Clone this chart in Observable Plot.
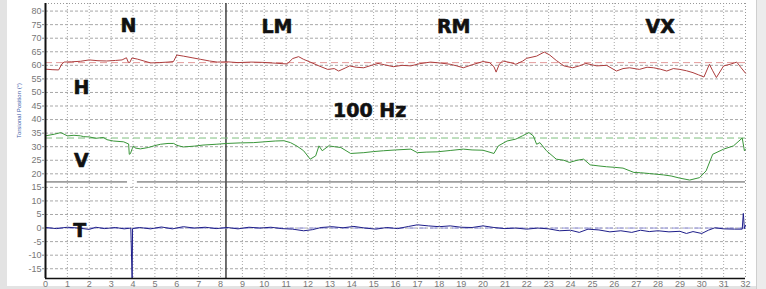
<!DOCTYPE html>
<html><head><meta charset="utf-8">
<script src="https://cdn.jsdelivr.net/npm/d3@7"></script>
<script src="https://cdn.jsdelivr.net/npm/@observablehq/plot@0.6"></script>
<style>
body{margin:0;background:#fff;}
#wrap{position:relative;width:766px;height:289px;overflow:hidden;background:#fff;}
#wrap svg{position:absolute;left:0;top:0;}
.strip{position:absolute;background:#e3e3e3;}
</style></head>
<body><div id="wrap">
<div class="strip" style="left:0;top:0;width:7px;height:289px;"></div>
<div class="strip" style="left:0;top:286px;width:766px;height:3px;"></div>
<div class="strip" style="left:756px;top:0;width:10px;height:289px;background:#ececec;border-left:1px solid #cfcfcf;"></div>
</div>
<script>
// ---- data ----
const H = [[0,58.6],[0.3,58.4],[0.6,58.3],[0.75,60.5],[0.85,61.2],[1.2,61.3],[1.6,61.5],[2.0,62.0],[2.4,61.7],[2.8,61.6],[3.2,61.8],[3.5,62.0],[3.7,62.8],[3.78,61.2],[3.85,61.0],[3.95,62.7],[4.2,62.3],[4.5,61.6],[4.8,60.9],[5.2,61.0],[5.6,61.2],[5.85,61.4],[6.0,63.8],[6.3,63.4],[6.7,62.8],[7.1,62.2],[7.5,61.6],[7.85,61.2],[8.3,61.3],[8.8,61.0],[9.4,61.2],[9.9,61.1],[10.5,60.8],[11.05,60.5],[11.3,62.5],[11.57,63.2],[11.8,62.2],[12.1,61.2],[12.5,59.8],[12.9,58.5],[13.2,58.8],[13.4,57.9],[13.7,59.0],[13.9,59.8],[14.2,59.3],[14.55,59.1],[14.9,60.0],[15.2,60.7],[15.5,60.2],[15.9,59.5],[16.3,60.0],[16.7,59.8],[17.1,60.6],[17.6,61.2],[18.0,60.9],[18.5,60.4],[18.8,59.8],[19.1,59.1],[19.5,60.2],[20.0,61.4],[20.3,61.0],[20.5,59.5],[20.6,57.5],[20.75,60.5],[20.9,61.6],[21.26,61.0],[21.5,60.4],[21.8,61.5],[22.0,62.6],[22.45,63.4],[22.8,64.9],[23.05,63.8],[23.35,61.8],[23.7,59.8],[24.1,59.1],[24.4,59.8],[24.7,60.7],[25.2,59.8],[25.65,60.0],[26.1,57.9],[26.4,58.8],[26.7,59.1],[27.15,58.5],[27.5,59.3],[27.8,59.1],[28.1,58.6],[28.4,57.9],[28.7,58.8],[29.0,58.5],[29.3,58.0],[29.6,57.3],[29.85,56.5],[30.1,55.7],[30.35,60.4],[30.5,58.0],[30.67,55.5],[31.0,59.8],[31.3,60.4],[31.6,61.2],[31.8,59.1],[32,57.1]];
const V = [[0,34.0],[0.4,34.6],[0.7,35.2],[1.0,34.0],[1.3,34.2],[1.6,34.0],[1.75,33.7],[2.0,33.6],[2.3,33.1],[2.65,33.4],[2.8,32.6],[3.1,32.1],[3.57,31.8],[3.8,31.0],[3.83,27.2],[3.88,27.4],[3.96,29.2],[4.03,30.3],[4.1,29.5],[4.34,29.2],[4.7,29.7],[5.0,30.4],[5.26,30.9],[5.6,31.2],[5.86,31.2],[6.0,30.5],[6.3,29.9],[6.8,30.2],[7.2,30.6],[7.8,30.9],[8.3,31.2],[8.9,31.4],[9.5,31.5],[10.0,31.8],[10.5,32.1],[10.9,32.2],[11.2,31.5],[11.5,30.2],[11.8,28.5],[12.1,25.4],[12.35,26.6],[12.5,30.3],[12.65,28.5],[12.95,30.3],[13.2,30.0],[13.5,29.7],[13.95,27.5],[14.55,27.8],[15.0,28.2],[15.45,28.5],[16.0,28.8],[16.7,29.1],[17.0,27.8],[17.4,28.0],[17.9,28.1],[18.5,28.6],[19.1,29.1],[19.5,28.8],[20.0,28.7],[20.5,27.5],[20.7,30.3],[21.1,32.1],[21.5,32.8],[21.8,34.0],[22.1,35.2],[22.3,34.0],[22.45,30.9],[22.6,31.5],[22.9,28.5],[23.35,25.4],[23.7,25.0],[23.95,24.2],[24.3,25.0],[24.6,25.4],[24.9,23.3],[25.3,22.9],[25.65,22.6],[26.0,22.4],[26.4,22.1],[26.9,20.5],[27.2,20.4],[27.6,20.1],[28.25,19.6],[28.6,19.2],[29.0,18.4],[29.45,17.7],[29.9,18.6],[30.2,21.1],[30.5,27.2],[31.0,29.1],[31.45,30.3],[31.7,32.1],[31.85,33.2],[31.95,28.5],[32,29.1]];
const T = [[0,0.2],[0.5,-0.2],[1,0.3],[1.5,0],[2,-0.5],[2.3,0.3],[2.7,-0.2],[3.2,0.2],[3.6,-0.3],[3.9,0],[3.96,-18.6],[3.98,-0.2],[4.3,0.2],[4.8,-0.3],[5.3,0.4],[5.8,-0.3],[6.3,0.5],[6.8,0],[7.3,0.3],[7.8,-0.2],[8.3,0.2],[8.8,-0.3],[9.3,0.3],[9.8,0],[10.3,0.3],[10.8,-0.2],[11.3,-0.4],[11.8,-1.0],[12.2,-0.6],[12.6,0.2],[13.1,0.5],[13.6,0.1],[14.1,0.6],[14.6,0],[15.1,-0.4],[15.6,0.2],[16.1,-0.2],[16.6,0.6],[17.0,1.2],[17.5,0.8],[18,0.5],[18.5,0.8],[19,0.3],[19.5,0.2],[20,0.8],[20.5,0.2],[21,-0.2],[21.5,0],[22,-0.4],[22.5,0],[23,-0.3],[23.5,-1.0],[24,-0.8],[24.4,-1.6],[24.8,-0.4],[25.3,-0.7],[25.8,-1.4],[26.3,-1.0],[26.8,-1.6],[27.2,-0.8],[27.6,-1.3],[28,-1.0],[28.5,-1.4],[29,-1.2],[29.3,-2.0],[29.6,-1.3],[30,-2.0],[30.3,-0.8],[30.6,0.1],[31,-0.3],[31.5,-0.4],[31.85,-0.4],[31.9,5.4],[31.95,-0.2],[32,1.0]];
const meanH = 61.0, meanV = 33.2, meanT = 0;
const xTicks = [0,1,2,3,4,5,6,7,8,9,10,11,12,13,14,15,16,17,18,19,20,21,22,23,24,25,26,27,28,29,30,31,32];
const yTicks = [-15,-10,-5,0,5,10,15,20,25,30,35,40,45,50,55,60,65,70,75,80];
const labels = ["N","LM","RM","VX","H","100 Hz","V","T"];
const labelX = [3.79,10.58,18.66,28.1,1.64,14.82,1.64,1.57];
const labelY = [74.4,74.3,74.3,74.3,51.5,43.2,24.6,-0.9];
const markerX = 8.25;
const levelY = 17;
const levelSegments = [{x1:0,x2:3.75},{x1:4.2,x2:32}];
const yLabel = "Torsional Position (°)";

const toObj = a => a.map(([t,v]) => ({t, v}));
const labelData = labels.map((s,i) => ({s, x: labelX[i], y: labelY[i]}));

const grid = "#a8a8a8";
const chart = Plot.plot({
  width: 766, height: 289,
  marginLeft: 45, marginRight: 21, marginTop: 3, marginBottom: 11,
  style: {fontFamily: "'Liberation Sans', Arial, sans-serif", background: "transparent"},
  x: {domain: [0, 32]},
  y: {domain: [-18.6, 82.8]},
  marks: [
    Plot.ruleX(xTicks.slice(1, -1), {stroke: grid, strokeWidth: 1, strokeDasharray: "1,2"}),
    Plot.ruleY(yTicks, {stroke: grid, strokeWidth: 1, strokeDasharray: "3,2"}),
    Plot.ruleY([82.8], {stroke: "#999", strokeDasharray: "1,2"}),
    Plot.ruleX([32], {stroke: "#999", strokeDasharray: "1,2"}),
    Plot.ruleX([markerX], {stroke: "#333", strokeWidth: 1.4}),
    Plot.ruleY(levelSegments, {y: () => levelY, x1: "x1", x2: "x2", stroke: "#555", strokeWidth: 1}),
    Plot.ruleY([meanH], {stroke: "#e39a9a", strokeWidth: 1, strokeDasharray: "7,4"}),
    Plot.ruleY([meanV], {stroke: "#7fbf7f", strokeWidth: 1, strokeDasharray: "7,4"}),
    Plot.ruleY([meanT], {stroke: "#9a9ae0", strokeWidth: 1, strokeDasharray: "7,4"}),
    Plot.line(toObj(H), {x: "t", y: "v", stroke: "#ad3d3d", strokeWidth: 1}),
    Plot.line(toObj(V), {x: "t", y: "v", stroke: "#3a963a", strokeWidth: 1}),
    Plot.line(toObj(T), {x: "t", y: "v", stroke: "#1e1e8a", strokeWidth: 1}),
    Plot.ruleX([0], {stroke: "#111", strokeWidth: 2}),
    Plot.ruleY([-18.6], {stroke: "#111", strokeWidth: 1.5}),
    Plot.axisX({ticks: xTicks, tickSize: 0, tickPadding: 2, fontSize: 9, fill: "#777", tickFormat: d => String(d), label: null}),
    Plot.axisY({ticks: yTicks, tickSize: 3, tickPadding: 1, fontSize: 9, fill: "#777", stroke: "#888", tickFormat: d => String(d), label: null}),
    Plot.text([yLabel], {frameAnchor: "left", dx: -26, dy: -3, rotate: -90, fontSize: 6, fill: "#3a5aa8"}),
    Plot.text(labelData, {x: "x", y: "y", text: "s", fontSize: 19, fontWeight: "bold", fontFamily: "'DejaVu Sans', sans-serif", fill: "#111", stroke: "#111", strokeWidth: 0.6, textAnchor: "middle", lineAnchor: "middle"})
  ]
});
document.getElementById("wrap").appendChild(chart);
</script>
</body></html>
